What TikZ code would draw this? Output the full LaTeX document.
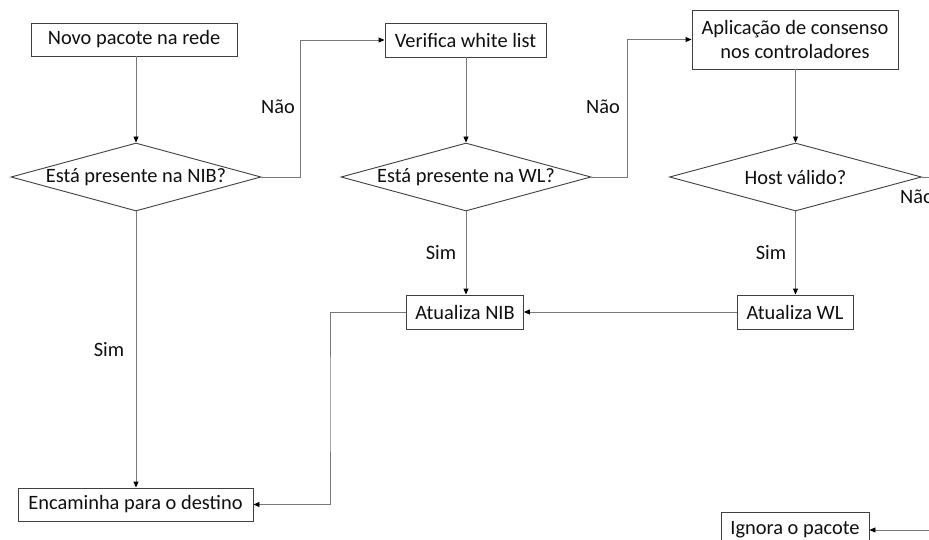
\documentclass[tikz,border=0pt]{standalone}
\usepackage{fontspec}
\setmainfont{Carlito}
\usetikzlibrary{shapes.geometric,arrows.meta,calc}
\definecolor{boxline}{RGB}{64,64,64}
\definecolor{conn}{RGB}{120,120,120}
\definecolor{txt}{RGB}{15,15,15}
\begin{document}
\begin{tikzpicture}[x=1pt,y=-1pt,
  font=\fontsize{20.4}{24}\selectfont, text=txt,
  stepbox/.style={draw=boxline, line width=0.9pt, rectangle, inner sep=0pt, align=center},
  decision/.style={draw=boxline, line width=0.9pt, diamond, aspect=3.7, inner sep=0pt, minimum width=250pt, minimum height=68pt},
  conn/.style={draw=conn, line width=0.9pt},
  arr/.style={conn, -{Triangle[length=6pt,width=5pt,fill=black,color=black]}},
  lbl/.style={inner sep=0pt}]
\useasboundingbox (0,0) rectangle (929,540);
\fill[white] (0,0) rectangle (929,540);

\node[stepbox, minimum width=206pt, minimum height=33pt] (n1) at (134,39.5) {Novo pacote na rede};
\node[decision] (d1) at (136,177) {Está presente na NIB?};
\node[stepbox, minimum width=161pt, minimum height=34pt] (n2) at (465.5,40) {Verifica white list};
\node[decision] (d2) at (466,177) {Está presente na WL?};
\node[stepbox, minimum width=206pt, minimum height=59pt] (n3) at (795,39.5) {Aplicação de consenso\\nos controladores};
\node[decision, minimum width=252pt] (d3) at (795.5,177) {Host válido?};
\node[stepbox, minimum width=117pt, minimum height=34pt] (n4) at (465,312) {Atualiza NIB};
\node[stepbox, minimum width=116pt, minimum height=34pt] (n5) at (795,312) {Atualiza WL};
\node[stepbox, minimum width=235pt, minimum height=33pt] (n6) at (135.5,504.5) {Encaminha para o destino};
\node[stepbox, minimum width=148pt, minimum height=36pt] (n7) at (795,530) {Ignora o pacote};

\coordinate (j1) at (300,40);
\coordinate (j2) at (627,39.5);
\coordinate (j3) at (330,400);
\coordinate (e1) at (929,177);
\coordinate (e2) at (929,530);

\draw[arr] (d1.north |- n1.south) -- (d1.north);
\draw[arr] (d1.east) -| (j1) -- (n2.west);
\draw[arr] (d1.south) -- (d1.south |- n6.north);
\draw[arr] (n2.south -| d2.north) -- (d2.north);
\draw[arr] (d2.east) -| (j2) -- (n3.west);
\draw[arr] (d2.south) -- (d2.south |- n4.north);
\draw[arr] (n3.south -| d3.north) -- (d3.north);
\draw[arr] (d3.south) -- (d3.south |- n5.north);
\draw[arr] (n5.west) -- (n4.east);
\draw[arr] (n4.west) -| (j3) |- (n6.east);
\draw[conn] (d3.east) -- (e1);
\draw[arr] (e2) -- (n7.east);

\node[lbl] (l1) at (278,107) {Não};
\node[lbl] (l2) at (603,107) {Não};
\node[lbl, anchor=west] (l3) at (900,197) {Não};
\node[lbl] (l4) at (109,350) {Sim};
\node[lbl] (l5) at (441,253) {Sim};
\node[lbl] (l6) at (771,253) {Sim};
\end{tikzpicture}
\end{document}
